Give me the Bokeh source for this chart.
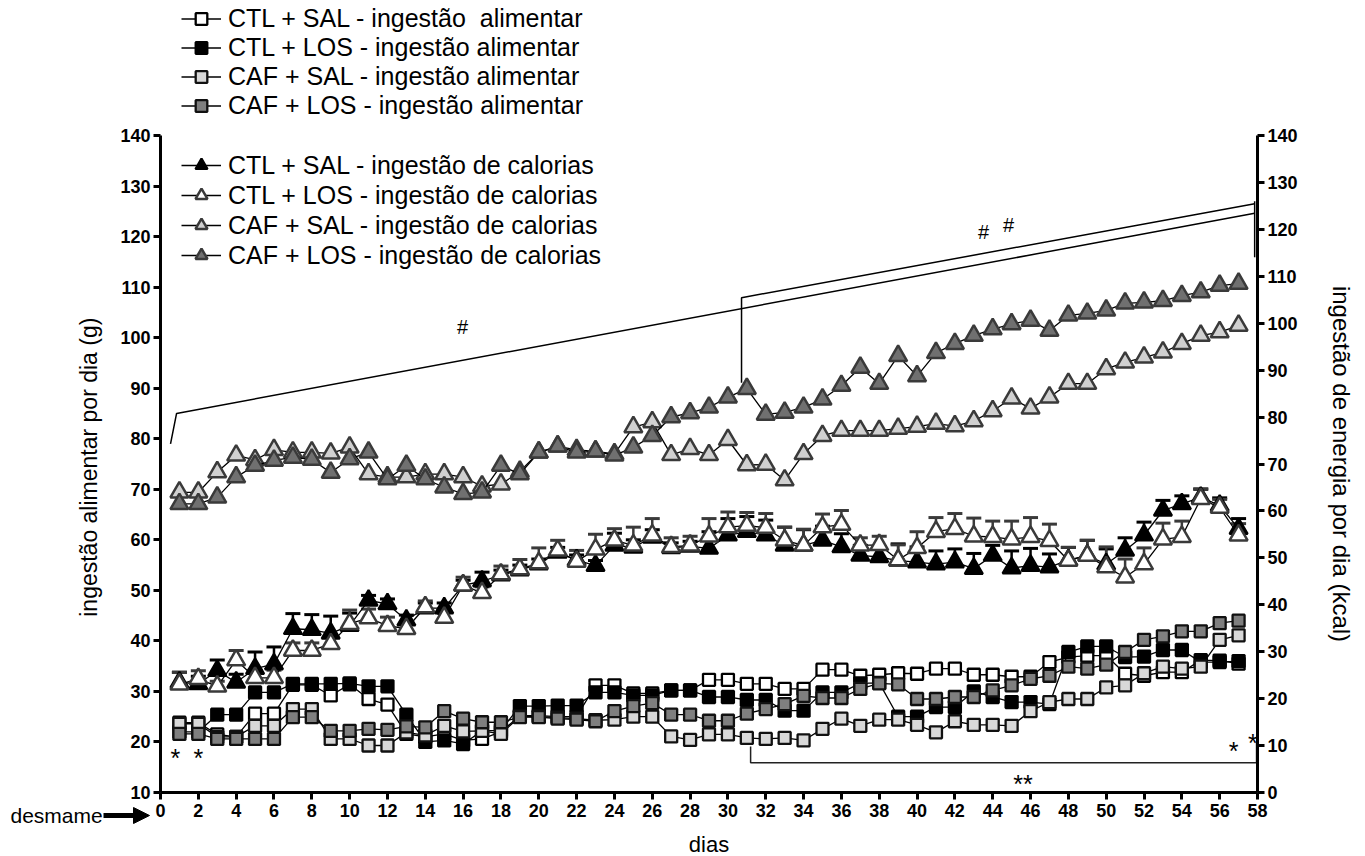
from bokeh.plotting import figure
from bokeh.models import (Range1d, LinearAxis, FixedTicker, Legend, LegendItem, Whisker,
                          TeeHead, ColumnDataSource, Label, Arrow, NormalHead)
from bokeh.embed import file_html
from bokeh.resources import INLINE

# ---------------- data ----------------
days = list(range(1, 58))

# food intake (g) - squares
ctl_sal_food = [23.8, 23.8, 21.5, 21.0, 25.6, 25.6, 31.3, 31.3, 29.2, 31.4,
                28.5, 27.4, 21.6, 21.0, 21.6, 20.3, 20.6, 22.0, 25.2, 25.2,
                25.0, 25.0, 31.2, 31.2, 29.6, 29.6, 30.2, 30.2, 32.3, 32.3,
                31.5, 31.5, 30.5, 30.5, 34.3, 34.3, 33.1, 33.3, 33.6, 33.5,
                34.5, 34.5, 33.3, 33.3, 32.9, 32.9, 35.8, 36.8, 37.1, 37.1,
                33.5, 33.1, 33.8, 33.8, 36.2, 36.1, 35.5]
ctl_los_food = [22.0, 22.0, 25.4, 25.4, 29.8, 29.8, 31.5, 31.5, 31.5, 31.6,
                31.0, 31.0, 25.4, 20.0, 20.3, 19.6, 22.2, 22.3, 27.1, 27.1,
                27.2, 27.2, 29.8, 29.8, 29.2, 29.2, 30.2, 30.2, 28.9, 28.9,
                28.3, 28.3, 26.2, 26.2, 29.8, 29.8, 31.6, 31.7, 25.0, 25.0,
                26.9, 26.9, 30.0, 28.9, 27.9, 27.9, 27.5, 37.8, 38.9, 38.9,
                36.8, 36.9, 38.2, 38.2, 35.8, 35.8, 36.0]
caf_sal_food = [23.6, 23.6, 21.0, 21.0, 23.2, 23.2, 26.5, 26.5, 20.6, 20.6,
                19.3, 19.3, 21.9, 21.3, 23.2, 22.1, 22.2, 21.6, 25.0, 25.0,
                24.8, 24.6, 24.3, 24.4, 25.0, 25.0, 21.1, 20.4, 21.5, 21.5,
                20.8, 20.6, 20.8, 20.3, 22.6, 24.6, 23.2, 24.4, 24.4, 23.4,
                21.9, 24.1, 23.4, 23.4, 23.2, 26.1, 27.9, 28.5, 28.5, 30.8,
                31.2, 33.6, 34.9, 34.5, 34.9, 40.2, 41.1]
caf_los_food = [21.6, 21.6, 20.6, 20.6, 20.6, 20.6, 24.9, 24.9, 22.2, 22.2,
                22.6, 22.4, 23.1, 22.9, 26.1, 24.6, 23.9, 23.9, 24.9, 24.9,
                24.6, 24.4, 24.1, 26.1, 27.1, 27.7, 25.4, 25.4, 24.2, 24.2,
                25.6, 26.5, 27.5, 29.1, 28.7, 28.7, 30.5, 31.6, 31.4, 28.5,
                28.5, 28.9, 28.9, 30.2, 31.2, 32.5, 33.1, 34.9, 34.5, 35.3,
                37.8, 40.2, 40.9, 41.9, 41.9, 43.5, 44.0]

# calorie intake - triangles (read on the left-axis scale)
ctl_sal_cal = [31.8, 31.5, 34.1, 31.8, 34.5, 35.4, 42.4, 42.2, 41.5, 43.0,
               48.0, 47.3, 44.1, 46.5, 46.5, 51.0, 51.8, 53.0, 54.0, 55.2,
               57.5, 56.0, 54.9, 58.9, 58.5, 60.5, 58.4, 58.7, 58.3, 60.9,
               61.6, 60.9, 58.9, 58.9, 59.9, 58.6, 56.9, 56.6, 55.9, 55.6,
               55.2, 55.6, 54.3, 56.9, 54.4, 54.9, 54.6, 56.0, 56.9, 55.2,
               57.9, 60.9, 65.8, 67.1, 68.4, 66.8, 62.2]
ctl_sal_err = [2.0, 1.5, 2.1, 1.6, 3.3, 3.4, 3.0, 3.0, 3.4, 2.5,
               1.0, 1.0, 1.0, 1.0, 1.0, 1.0, 1.8, 1.0, 1.0, 1.0,
               1.0, 1.0, 1.0, 2.4, 1.5, 1.5, 1.0, 1.0, 3.3, 3.3,
               3.0, 3.0, 3.6, 3.1, 2.8, 2.6, 2.0, 2.0, 3.3, 3.0,
               2.6, 2.6, 3.0, 2.0, 3.4, 3.4, 2.6, 2.5, 3.0, 3.0,
               2.5, 2.6, 2.0, 1.6, 1.6, 1.5, 2.0]
ctl_los_cal = [31.4, 32.5, 31.0, 36.2, 32.7, 32.7, 38.1, 38.1, 39.4, 43.4,
               44.5, 43.0, 42.4, 46.7, 44.6, 51.0, 49.5, 53.2, 54.2, 55.4,
               57.9, 55.7, 58.1, 59.9, 58.9, 60.9, 58.6, 58.9, 60.7, 62.5,
               62.8, 62.4, 59.9, 58.9, 62.5, 63.0, 58.9, 59.0, 56.0, 58.4,
               61.6, 62.2, 60.7, 60.6, 60.1, 60.6, 59.8, 55.9, 56.9, 54.6,
               52.6, 55.2, 60.1, 60.6, 68.1, 66.4, 60.9]
ctl_los_err = [2.4, 1.6, 1.0, 1.9, 1.5, 1.5, 1.5, 1.5, 1.5, 2.7,
               1.8, 1.7, 1.0, 1.2, 1.0, 1.6, 1.2, 1.6, 1.9, 3.0,
               2.0, 2.2, 3.0, 2.3, 3.6, 3.3, 1.8, 1.8, 3.5, 3.0,
               2.6, 2.8, 2.6, 3.2, 2.6, 2.8, 1.5, 1.7, 3.0, 3.2,
               2.8, 3.0, 3.6, 3.1, 3.6, 3.8, 3.3, 2.6, 3.0, 4.0,
               3.6, 3.2, 3.2, 3.1, 2.0, 1.6, 2.3]
caf_sal_cal = [69.4, 69.4, 73.4, 76.7, 75.8, 77.8, 77.3, 77.3, 77.1, 78.3,
               73.0, 72.4, 72.4, 73.0, 73.0, 72.4, 70.6, 71.0, 73.5, 77.3,
               78.5, 77.8, 77.5, 77.0, 82.3, 83.3, 76.8, 78.0, 76.8, 79.8,
               74.8, 74.9, 71.8, 77.0, 80.6, 81.6, 81.6, 81.6, 82.0, 82.4,
               83.0, 82.5, 83.5, 85.5, 88.0, 86.0, 88.2, 90.9, 90.9, 93.8,
               95.1, 96.1, 97.1, 98.8, 100.4, 101.1, 102.4]
caf_los_cal = [67.1, 67.1, 68.4, 72.4, 74.7, 75.7, 76.3, 75.9, 73.3, 76.0,
               77.3, 72.0, 74.7, 72.0, 70.4, 69.1, 69.4, 74.7, 73.0, 77.3,
               78.5, 77.3, 77.5, 76.7, 78.3, 80.6, 84.3, 85.1, 86.2, 88.2,
               89.9, 84.8, 85.2, 86.2, 87.8, 90.5, 94.1, 90.9, 96.4, 92.4,
               97.0, 98.8, 100.4, 101.7, 102.7, 103.4, 101.4, 104.4, 104.8, 105.4,
               106.8, 107.0, 107.3, 108.3, 109.0, 110.3, 110.7]

x_ticks = list(range(0, 59, 2))
left_ticks = list(range(10, 141, 10))
right_ticks = list(range(0, 141, 10))

sq_labels = ["CTL + SAL - ingestão  alimentar", "CTL + LOS - ingestão alimentar",
             "CAF + SAL - ingestão alimentar", "CAF + LOS - ingestão alimentar"]
tri_labels = ["CTL + SAL - ingestão de calorias", "CTL + LOS - ingestão de calorias",
              "CAF + SAL - ingestão de calorias", "CAF + LOS - ingestão de calorias"]

# significance brackets (data units)
bracket_hash_x = [[0.53, 0.85, 57.85], [30.72, 30.72, 57.85], [57.85, 57.85]]
bracket_hash_y = [[79.0, 85.0, 124.6], [91.1, 107.9, 126.5], [127.0, 115.9]]
bracket_star_x = [[31.2, 31.2, 57.95, 57.95]]
bracket_star_y = [[19.1, 15.9, 15.9, 19.9]]
hash_marks = [("#", 15.97, 102.2), ("#", 43.52, 121.0), ("#", 44.84, 122.2)]
star_marks = [("*", 0.79, 16.8), ("*", 2.0, 16.8), ("*", 56.74, 18.3), ("*", 57.75, 19.7),
              ("**", 45.6, 11.7)]

FONT = "Liberation Sans"

# ---------------- layout: the frame covers the whole canvas; axes sit at fixed data positions
W, H = 1365, 856
AX_L, AX_R, AX_T, AX_B = 160, 1257, 135, 792        # pixel box of the axes
X0, X1, Y0, Y1, K0, K1 = 0, 58, 10, 140, 0, 140       # data limits of the axes
px_x = (AX_R - AX_L) / (X1 - X0)
px_y = (AX_B - AX_T) / (Y1 - Y0)
px_k = (AX_B - AX_T) / (K1 - K0)
x_range = Range1d(X0 - AX_L / px_x, X1 + (W - AX_R) / px_x)
y_range = Range1d(Y0 - (H - AX_B) / px_y, Y1 + AX_T / px_y)
k_range = Range1d(K0 - (H - AX_B) / px_k, K1 + AX_T / px_k)

p = figure(width=W, height=H, x_range=x_range, y_range=y_range,
           output_backend="svg", toolbar_location=None,
           x_axis_location=None, y_axis_location=None, min_border=0)
p.min_border_left = p.min_border_right = p.min_border_top = p.min_border_bottom = 0
p.outline_line_color = None
p.grid.visible = False
p.background_fill_color = "white"
p.border_fill_color = "white"
p.extra_y_ranges = {"kcal": k_range}

bottom_axis = LinearAxis(fixed_location=Y0, bounds=(X0, X1), ticker=FixedTicker(ticks=x_ticks))
left_axis = LinearAxis(fixed_location=X0, bounds=(Y0, Y1), ticker=FixedTicker(ticks=left_ticks))
right_axis = LinearAxis(fixed_location=X1, bounds=(K0, K1), y_range_name="kcal",
                        ticker=FixedTicker(ticks=right_ticks))
p.add_layout(bottom_axis, "below")
p.add_layout(left_axis, "left")
p.add_layout(right_axis, "right")

for ax in (bottom_axis, left_axis, right_axis):
    ax.axis_line_width = 3
    ax.axis_line_color = "black"
    ax.major_tick_line_width = 3
    ax.major_tick_line_color = "black"
    ax.major_tick_out = 7
    ax.major_tick_in = 0
    ax.minor_tick_line_color = None
    ax.major_label_text_font = FONT
    ax.major_label_text_font_style = "bold"
    ax.major_label_text_font_size = "18px"
    ax.major_label_text_color = "black"
    ax.major_label_standoff = 3
    ax.axis_label_text_font = FONT
    ax.axis_label_text_font_style = "normal"
    ax.axis_label_text_color = "black"

bottom_axis.major_label_standoff = 4
left_axis.axis_label = "ingestão alimentar  por dia (g)"
left_axis.axis_label_text_font_size = "23px"
left_axis.axis_label_standoff = 15
right_axis.axis_label = "ingestão de energia por dia (kcal)"
right_axis.axis_label_text_font_size = "24px"
right_axis.axis_label_standoff = 27

# error bars (upper only)
def add_err(vals, errs, color):
    src = ColumnDataSource(dict(x=days, lower=vals, upper=[v + e for v, e in zip(vals, errs)]))
    w = Whisker(source=src, base="x", lower="lower", upper="upper", dimension="height",
                line_color=color, line_width=2.5, lower_head=None,
                upper_head=TeeHead(size=15, line_color=color, line_width=3), level="underlay")
    p.add_layout(w)

add_err(ctl_sal_cal, ctl_sal_err, "black")
add_err(ctl_los_cal, ctl_los_err, "#3a3a3a")

def series(vals, marker, size, fill, outline, lw, label):
    src = ColumnDataSource(dict(x=days, y=vals))
    ln = p.line("x", "y", source=src, line_color="black", line_width=1.3)
    sc = p.scatter("x", "y", source=src, marker=marker, size=size, fill_color=fill,
                   line_color=outline, line_width=lw)
    return LegendItem(label=label, renderers=[ln, sc])

sq_items = [
    series(ctl_sal_food, "square", 12, "white", "black", 2.3, sq_labels[0]),
    series(ctl_los_food, "square", 12, "black", "black", 2.3, sq_labels[1]),
    series(caf_sal_food, "square", 12, "#d8d8d8", "#111111", 2.3, sq_labels[2]),
    series(caf_los_food, "square", 12, "#7f7f7f", "#111111", 2.3, sq_labels[3]),
]
tri_items = [
    series(ctl_sal_cal, "triangle", 18, "black", "black", 2.3, tri_labels[0]),
    series(ctl_los_cal, "triangle", 18, "white", "#3a3a3a", 2.5, tri_labels[1]),
    series(caf_sal_cal, "triangle", 18, "#d0d0d0", "#3a3a3a", 2.5, tri_labels[2]),
    series(caf_los_cal, "triangle", 18, "#707070", "#3a3a3a", 2.5, tri_labels[3]),
]

# brackets
p.multi_line(bracket_hash_x, bracket_hash_y, line_color="black", line_width=1.5)
p.multi_line(bracket_star_x, bracket_star_y, line_color="#222222", line_width=1.5)

for txt, mx, my in hash_marks:
    p.add_layout(Label(x=mx, y=my, text=txt, text_align="center", text_baseline="middle",
                       text_font=FONT, text_font_size="20px", text_color="black"))
for txt, mx, my in star_marks:
    p.add_layout(Label(x=mx, y=my, text=txt, text_align="center", text_baseline="middle",
                       text_font=FONT, text_font_size="25px", text_color="black"))

# legends (location = bottom-left corner, pixels from the canvas' bottom-left)
def make_legend(items, loc, gh):
    return Legend(items=items, location=loc, orientation="vertical",
                  glyph_width=40, glyph_height=gh, label_height=gh, spacing=0,
                  padding=0, margin=0, label_standoff=7,
                  label_text_font=FONT, label_text_font_size="25px",
                  label_text_color="black",
                  border_line_color=None, background_fill_alpha=0)

p.add_layout(make_legend(sq_items, (181, H - 120), 29))
p.add_layout(make_legend(tri_items, (181, H - 270), 30))

# x axis title and "desmame" arrow
p.add_layout(Label(x=(X0 + X1) / 2, y=Y0 - 52 / px_y, text="dias", text_align="center",
                   text_baseline="middle", text_font=FONT, text_font_size="22px",
                   text_color="black"))
p.add_layout(Label(x=X0 - 150 / px_x, y=Y0 - 23 / px_y, text="desmame", text_align="left",
                   text_baseline="middle", text_font=FONT, text_font_size="21px",
                   text_color="black"))
p.add_layout(Arrow(x_start=X0 - 57 / px_x, y_start=Y0 - 23 / px_y,
                   x_end=X0 - 11 / px_x, y_end=Y0 - 23 / px_y, line_width=5,
                   line_color="black",
                   end=NormalHead(size=16, fill_color="black", line_color="black")))

open("out.html", "w").write(file_html(p, INLINE))
